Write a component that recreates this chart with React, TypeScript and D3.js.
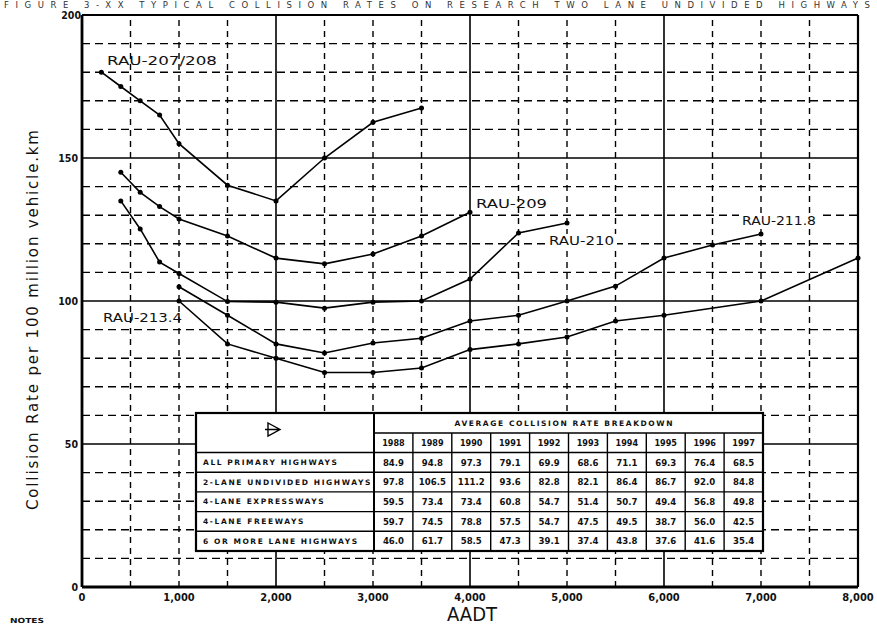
import React from "react";
import * as d3 from "d3";

// ---------- data ----------
const xTicks = [0, 1000, 2000, 3000, 4000, 5000, 6000, 7000, 8000];
const yTicks = [0, 50, 100, 150, 200];

const rau207: [number, number][] = [
  [200, 180], [400, 175], [600, 170], [800, 165], [1000, 155], [1500, 140.5],
  [2000, 135], [2500, 150], [3000, 162.5], [3500, 167.5],
];
const rau209: [number, number][] = [
  [400, 145], [600, 138], [800, 133], [1000, 128.7], [1500, 122.7], [2000, 115],
  [2500, 113], [3000, 116.4], [3500, 122.7], [4000, 131],
];
const rau210: [number, number][] = [
  [400, 135], [600, 125.2], [800, 113.6], [1000, 109.6], [1500, 99.8], [2000, 99.6],
  [2500, 97.5], [3000, 99.6], [3500, 100], [4000, 107.7], [4500, 123.8], [5000, 127.3],
];
const rau2118: [number, number][] = [
  [1000, 105], [1500, 95], [2000, 85], [2500, 81.8], [3000, 85.3], [3500, 87],
  [4000, 93], [4500, 95], [5000, 100], [5500, 105.2], [6000, 115], [6500, 119.6], [7000, 123.4],
];
const rau2134: [number, number][] = [
  [1000, 100], [1500, 85], [2000, 80], [2500, 75], [3000, 75], [3500, 76.6],
  [4000, 83], [4500, 85], [5000, 87.4], [5500, 93], [6000, 95], [7000, 100], [8000, 115],
];

const seriesList = [rau207, rau209, rau210, rau2118, rau2134];

const curveLabels = [
  { text: "RAU-207/208", x: 107, y: 65, w: 110, bg: false },
  { text: "RAU-209", x: 476, y: 208, w: 71, bg: false },
  { text: "RAU-210", x: 549, y: 245, w: 65, bg: true },
  { text: "RAU-211.8", x: 742, y: 225, w: 74, bg: true },
  { text: "RAU-213.4", x: 103, y: 322, w: 79, bg: false },
];

const tableYears = ["1988", "1989", "1990", "1991", "1992", "1993", "1994", "1995", "1996", "1997"];
const tableRows = [
  "ALL PRIMARY HIGHWAYS",
  "2-LANE UNDIVIDED HIGHWAYS",
  "4-LANE EXPRESSWAYS",
  "4-LANE FREEWAYS",
  "6 OR MORE LANE HIGHWAYS",
];
const allPrimary = ["84.9", "94.8", "97.3", "79.1", "69.9", "68.6", "71.1", "69.3", "76.4", "68.5"];
const twoLane = ["97.8", "106.5", "111.2", "93.6", "82.8", "82.1", "86.4", "86.7", "92.0", "84.8"];
const fourExp = ["59.5", "73.4", "73.4", "60.8", "54.7", "51.4", "50.7", "49.4", "56.8", "49.8"];
const fourFree = ["59.7", "74.5", "78.8", "57.5", "54.7", "47.5", "49.5", "38.7", "56.0", "42.5"];
const sixMore = ["46.0", "61.7", "58.5", "47.3", "39.1", "37.4", "43.8", "37.6", "41.6", "35.4"];
const tableValues = [allPrimary, twoLane, fourExp, fourFree, sixMore];

// ---------- layout ----------
const W = 877;
const H = 626;
const x = d3.scaleLinear().domain([0, 8000]).range([82, 858]);
const y = d3.scaleLinear().domain([0, 200]).range([587, 15]);

const FONT = "'DejaVu Sans', 'Noto Sans', sans-serif";
const NARROW = "'Liberation Sans Narrow', 'DejaVu Sans Condensed', 'Liberation Sans', sans-serif";

const T = { left: 196, right: 763, top: 413, h1: 20, h2: 19.5, row: 19.7, labelW: 178 };

export default function App() {
  const line = d3
    .line<[number, number]>()
    .x((d) => x(d[0]))
    .y((d) => y(d[1]));

  const minorX = d3.range(500, 8000, 500).filter((v) => v % 2000 !== 0);
  const majorX = [2000, 4000, 6000];
  const minorY = d3.range(10, 200, 10).filter((v) => v % 50 !== 0);
  const majorY = [50, 100, 150];

  const colW = (T.right - T.left - T.labelW) / tableYears.length;
  const dataLeft = T.left + T.labelW;
  const rowsTop = T.top + T.h1 + T.h2;
  const tableBottom = rowsTop + T.row * tableRows.length;

  return (
    <svg
      width={W}
      height={H}
      viewBox={`0 0 ${W} ${H}`}
      style={{ position: "absolute", left: 0, top: 0, background: "#fff" }}
    >
      <rect x={0} y={0} width={W} height={H} fill="#fff" />
      {/* title at top edge */}
      <text x={4} y={8} fontFamily={FONT} fontSize={8.5} fill="#333" textLength={866} lengthAdjust="spacing">
        FIGURE 3-XX  TYPICAL COLLISION RATES ON RESEARCH TWO LANE UNDIVIDED HIGHWAYS
      </text>

      {/* grid */}
      <g stroke="#000" fill="none">
        {minorY.map((v) => (
          <line key={"my" + v} x1={x(0)} x2={x(8000)} y1={y(v)} y2={y(v)} strokeWidth={1.4} strokeDasharray="8,5" />
        ))}
        {minorX.map((v) => (
          <line key={"mx" + v} x1={x(v)} x2={x(v)} y1={y(0)} y2={y(200)} strokeWidth={1.4} strokeDasharray="6,5" />
        ))}
        {majorY.map((v) => (
          <line key={"My" + v} x1={x(0)} x2={x(8000)} y1={y(v)} y2={y(v)} strokeWidth={1.6} />
        ))}
        {majorX.map((v) => (
          <line key={"Mx" + v} x1={x(v)} x2={x(v)} y1={y(0)} y2={y(200)} strokeWidth={1.6} />
        ))}
        <line x1={x(0)} x2={x(8000)} y1={y(200)} y2={y(200)} strokeWidth={2.2} />
        <line x1={x(8000)} x2={x(8000)} y1={y(0)} y2={y(200)} strokeWidth={2.2} />
        <line x1={x(0)} x2={x(8000)} y1={y(0)} y2={y(0)} strokeWidth={2.8} />
        <line x1={x(0)} x2={x(0)} y1={y(0)} y2={y(200)} strokeWidth={2.8} />
      </g>

      {/* curves */}
      <g>
        {seriesList.map((s, i) => (
          <g key={"s" + i}>
            <path d={line(s) || ""} fill="none" stroke="#000" strokeWidth={1.6} />
            {s.map((d, j) => (
              <circle key={j} cx={x(d[0])} cy={y(d[1])} r={2.5} fill="#000" />
            ))}
          </g>
        ))}
      </g>

      {/* curve labels */}
      {curveLabels.map((l) => (
        <g key={l.text}>
          {l.bg && <rect x={l.x - 3} y={l.y - 11} width={l.w + 6} height={13} fill="#fff" />}
          <text x={l.x} y={l.y} fontFamily={FONT} fontSize={12.5} fill="#111" textLength={l.w} lengthAdjust="spacingAndGlyphs">
            {l.text}
          </text>
        </g>
      ))}

      {/* y ticks */}
      {yTicks.map((v) => (
        <text
          key={"yt" + v}
          x={v === 200 ? 81 : 78}
          y={y(v)}
          dy="0.35em"
          textAnchor="end"
          fontFamily={NARROW}
          fontWeight="bold"
          fontSize={10.5}
          fill="#111"
        >
          {v}
        </text>
      ))}
      {/* x ticks */}
      {xTicks.map((v) => (
        <text
          key={"xt" + v}
          x={x(v)}
          y={601}
          textAnchor="middle"
          fontFamily={NARROW}
          fontWeight="bold"
          fontSize={11}
          fill="#111"
        >
          {d3.format(",")(v)}
        </text>
      ))}

      <text x={472} y={621} textAnchor="middle" fontFamily={NARROW} fontSize={19} fill="#111" textLength={50} lengthAdjust="spacingAndGlyphs">
        AADT
      </text>
      <text
        transform="translate(38,320) rotate(-90)"
        textAnchor="middle"
        fontFamily={FONT}
        fontSize={15}
        fill="#111"
        textLength={380}
        lengthAdjust="spacing"
      >
        Collision Rate per 100 million vehicle.km
      </text>
      <text x={10} y={623} fontFamily={FONT} fontWeight="bold" fontSize={7} fill="#111" textLength={34} lengthAdjust="spacingAndGlyphs">
        NOTES
      </text>

      {/* table */}
      <g>
        <rect x={T.left} y={T.top} width={T.right - T.left} height={tableBottom - T.top} fill="#fff" stroke="#000" strokeWidth={2.2} />
        <line x1={dataLeft} x2={dataLeft} y1={T.top} y2={tableBottom} stroke="#000" strokeWidth={2} />
        <line x1={dataLeft} x2={T.right} y1={T.top + T.h1} y2={T.top + T.h1} stroke="#000" strokeWidth={1.4} />
        {tableRows.map((_, i) => (
          <line key={"rl" + i} x1={T.left} x2={T.right} y1={rowsTop + i * T.row} y2={rowsTop + i * T.row} stroke="#000" strokeWidth={1.4} />
        ))}
        {tableYears.map((_, i) =>
          i === 0 ? null : (
            <line
              key={"cl" + i}
              x1={dataLeft + i * colW}
              x2={dataLeft + i * colW}
              y1={T.top + T.h1}
              y2={tableBottom}
              stroke="#000"
              strokeWidth={1.4}
            />
          )
        )}
        {/* symbol */}
        <path d="M268,423 L280,429.5 L268,436 Z M265,429.5 L280,429.5" fill="none" stroke="#000" strokeWidth={1.4} />
        <text
          x={(dataLeft + T.right) / 2 - 5}
          y={T.top + T.h1 / 2}
          dy="0.35em"
          textAnchor="middle"
          fontFamily={FONT}
          fontWeight="bold"
          fontSize={7.5}
          fill="#111"
          textLength={218}
          lengthAdjust="spacing"
        >
          AVERAGE COLLISION RATE BREAKDOWN
        </text>
        {tableYears.map((yr, i) => (
          <text
            key={"yr" + yr}
            x={dataLeft + (i + 0.5) * colW}
            y={T.top + T.h1 + T.h2 / 2}
            dy="0.35em"
            textAnchor="middle"
            fontFamily={NARROW}
            fontWeight="bold"
            fontSize={9}
            fill="#111"
          >
            {yr}
          </text>
        ))}
        {tableRows.map((r, i) => (
          <text
            key={"rn" + r}
            x={T.left + 7}
            y={rowsTop + (i + 0.5) * T.row}
            dy="0.35em"
            fontFamily={FONT}
            fontWeight="bold"
            fontSize={7.5}
            fill="#111"
            textLength={r.length * 6.7}
            lengthAdjust="spacing"
          >
            {r}
          </text>
        ))}
        {tableValues.map((vals, i) =>
          vals.map((v, j) => (
            <text
              key={"v" + i + "-" + j}
              x={dataLeft + (j + 0.5) * colW}
              y={rowsTop + (i + 0.5) * T.row}
              dy="0.35em"
              textAnchor="middle"
              fontFamily={NARROW}
              fontWeight="bold"
              fontSize={9.5}
              fill="#111"
            >
              {v}
            </text>
          ))
        )}
      </g>
    </svg>
  );
}
